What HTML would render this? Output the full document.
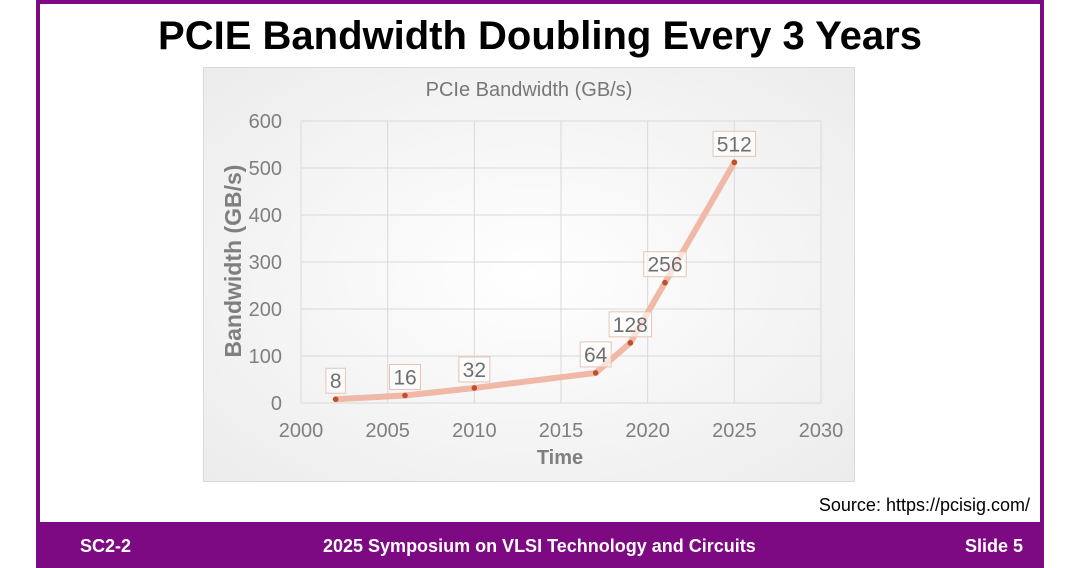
<!DOCTYPE html>
<html><head><meta charset="utf-8"><style>
body{margin:0;width:1080px;height:568px;overflow:hidden;background:#fff;font-family:"Liberation Sans",sans-serif}
#slide{position:absolute;left:36px;top:0;width:1008px;height:568px;border:4px solid #7d0a82;border-bottom:none;box-sizing:border-box}
#footer{position:absolute;left:36px;top:522px;width:1008px;height:46px;background:#7d0a82;color:#fff;font-weight:bold;font-size:18px}
#footer span{position:absolute;top:14px}
#title{position:absolute;left:0;width:1080px;top:14px;text-align:center;font-size:40px;font-weight:bold;color:#000}
#src{position:absolute;right:50px;top:495px;font-size:18px;color:#000}
</style></head><body>
<div id="slide"></div>
<div id="title">PCIE Bandwidth Doubling Every 3 Years</div>
<svg width="1080" height="568" style="position:absolute;left:0;top:0;font-family:'Liberation Sans',sans-serif">
<defs><radialGradient id="bg" cx="50%" cy="50%" r="70%"><stop offset="0" stop-color="#ffffff"/><stop offset="1" stop-color="#ececec"/></radialGradient></defs>
<rect x="203.5" y="67.5" width="651" height="414" fill="url(#bg)" stroke="#d9d9d9"/>
<text x="529" y="96" text-anchor="middle" font-size="20" fill="#777">PCIe Bandwidth (GB/s)</text>
<g id="grid"></g><g id="ticks"></g>
<text x="560" y="464" text-anchor="middle" font-size="20" font-weight="bold" fill="#7f7f7f">Time</text>
<text transform="translate(241,261) rotate(-90)" text-anchor="middle" font-size="23" font-weight="bold" fill="#7f7f7f">Bandwidth (GB/s)</text>
<g id="series"></g>
</svg>
<div id="src">Source: https://pcisig.com/</div>
<div id="footer">
<span style="left:44px">SC2-2</span>
<span style="left:287px">2025 Symposium on VLSI Technology and Circuits</span>
<span style="left:929px">Slide 5</span>
</div>
<script>
const years=[2002,2006,2010,2017,2019,2021,2025];
const bandwidth=[8,16,32,64,128,256,512];
const xTicks=[2000,2005,2010,2015,2020,2025,2030];
const yTicks=[0,100,200,300,400,500,600];
const NS='http://www.w3.org/2000/svg';
const X=v=>301+(v-2000)*(520/30);
const Y=v=>403-v*(282/600);
function mk(t,a,p){const e=document.createElementNS(NS,t);for(const k in a)e.setAttribute(k,a[k]);p.appendChild(e);return e;}
const g=document.getElementById('grid'),tk=document.getElementById('ticks'),s=document.getElementById('series');
yTicks.forEach(v=>{const l=mk('line',{x1:X(2000),x2:X(2030),y1:Y(v),y2:Y(v),stroke:'#d9d9d9'},g);


const t=mk('text',{x:X(2000)-19,y:Y(v)+7,'text-anchor':'end','font-size':20,fill:'#7f7f7f'},tk);t.textContent=v;

});
xTicks.forEach(v=>{const l=mk('line',{x1:X(v),x2:X(v),y1:Y(0),y2:Y(600),stroke:'#d9d9d9'},g);


const t=mk('text',{x:X(v),y:437,'text-anchor':'middle','font-size':20,fill:'#7f7f7f'},tk);t.textContent=v;

});
const pts=years.map((y,i)=>X(y)+','+Y(bandwidth[i])).join(' ');
const pl=mk('polyline',{points:pts,fill:'none',stroke:'#f0b8a6','stroke-width':6,'stroke-linejoin':'round','stroke-linecap':'round'},s);


years.forEach((y,i)=>{const c=mk('circle',{cx:X(y),cy:Y(bandwidth[i]),r:2.8,fill:'#c0502a'},s);


const txt=String(bandwidth[i]);const w=txt.length*11.5+8;const cx=X(y),cy=Y(bandwidth[i])-19;
const r=mk('rect',{x:cx-w/2,y:cy-12,width:w,height:25,fill:'#fff','fill-opacity':0.6,stroke:'#e6c4b6'},s);


const t=mk('text',{x:cx,y:cy+8,'text-anchor':'middle','font-size':21,fill:'#6f6f6f'},s);t.textContent=txt;

});
</script>
</body></html>
